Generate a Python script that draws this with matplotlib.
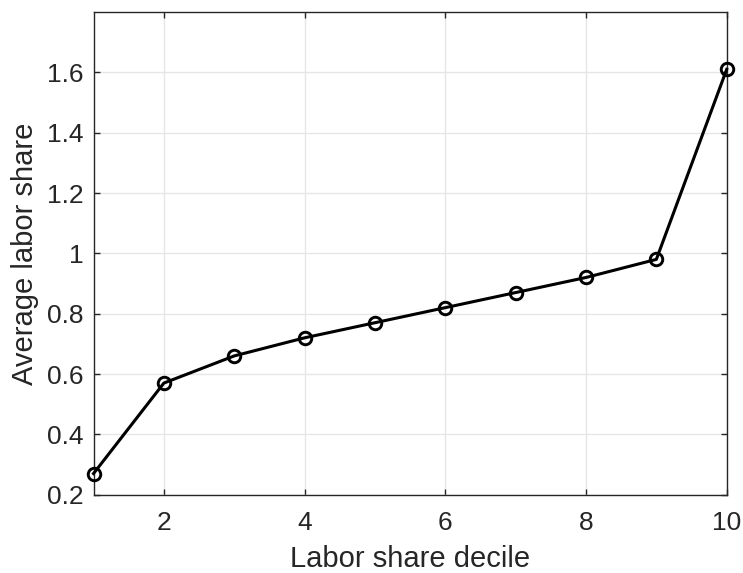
import matplotlib
matplotlib.use('Agg')
import matplotlib.pyplot as plt

plt.rcParams['font.family'] = ['Liberation Sans', 'DejaVu Sans']

decile = [1, 2, 3, 4, 5, 6, 7, 8, 9, 10]
avg_share = [0.27, 0.57, 0.66, 0.72, 0.77, 0.82, 0.87, 0.92, 0.98, 1.61]

yticks = [0.2, 0.4, 0.6, 0.8, 1.0, 1.2, 1.4, 1.6]
ytick_labels = ['0.2', '0.4', '0.6', '0.8', '1', '1.2', '1.4', '1.6']
xticks = [2, 4, 6, 8, 10]

fig = plt.figure(figsize=(7.43, 5.73), dpi=100)
ax = fig.add_axes([93.5/743, 1 - 494.7/573, (726.7-93.5)/743, (494.7-12)/573])

ax.plot(decile, avg_share, color='black', linewidth=2.2, marker='o',
        markersize=9, markerfacecolor='none', markeredgewidth=2.1,
        clip_on=False, zorder=3)

ax.set_xlim(1, 10)
ax.set_ylim(0.2, 1.8)
ax.set_xticks(xticks)
ax.set_yticks(yticks)
ax.set_yticklabels(ytick_labels)

ax.grid(True, color='#e6e6e6', linewidth=1)
ax.set_axisbelow(True)
ax.tick_params(direction='in', top=True, right=True, length=4.5, width=1,
               colors='#262626', labelsize=19, pad=7)
ax.tick_params(axis='x', pad=12)
for s in ax.spines.values():
    s.set_color('#262626')
    s.set_linewidth(1)

ax.set_xlabel('Labor share decile', fontsize=21, color='#262626', labelpad=7)
ax.set_ylabel('Average labor share', fontsize=21, color='#262626', labelpad=6)

fig.savefig('out.png', dpi=100)
